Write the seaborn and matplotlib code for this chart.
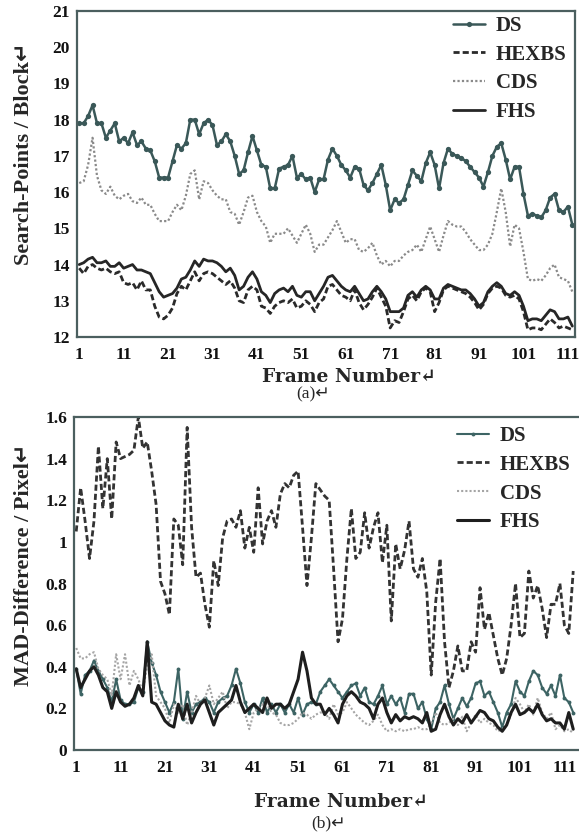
import numpy as np
import matplotlib
matplotlib.use("Agg")
import matplotlib.pyplot as plt
import seaborn as sns

# ---------------- data : panel (a) search points per block ----------------
frames_a = np.arange(1, 113)
ds_a = [17.9, 17.9, 18.1, 18.4, 17.9, 17.9, 17.5, 17.7, 17.9, 17.4,
        17.5, 17.35, 17.65, 17.3, 17.4, 17.2, 17.15, 16.85, 16.4, 16.4,
        16.4, 16.85, 17.3, 17.2, 17.35, 18.0, 18.0, 17.6, 17.9, 18.0,
        17.85, 17.3, 17.4, 17.6, 17.4, 17.0, 16.5, 16.6, 17.1, 17.55,
        17.15, 16.75, 16.7, 16.1, 16.1, 16.65, 16.7, 16.75, 17.0, 16.4,
        16.5, 16.35, 16.4, 16.0, 16.35, 16.35, 16.9, 17.2, 17.0, 16.75,
        16.6, 16.4, 16.7, 16.65, 16.2, 16.05, 16.25, 16.5, 16.75, 16.2,
        15.5, 15.8, 15.7, 15.8, 16.2, 16.6, 16.45, 16.3, 16.8, 17.1,
        16.75, 16.1, 16.8, 17.2, 17.05, 17.0, 16.95, 16.85, 16.7, 16.55,
        16.4, 16.15, 16.55, 17.0, 17.25, 17.35, 16.9, 16.35, 16.7, 16.7,
        15.95, 15.35, 15.4, 15.35, 15.3, 15.5, 15.85, 15.95, 15.5, 15.45,
        15.6, 15.1]
hexbs_a = [13.9, 13.75, 13.95, 14.0, 13.9, 13.85, 13.9, 13.8, 13.75, 13.8,
           13.5, 13.45, 13.5, 13.3, 13.55, 13.3, 13.3, 12.85, 12.55, 12.5,
           12.6, 12.8, 13.2, 13.4, 13.3, 13.55, 13.8, 13.55, 13.75, 13.8,
           13.75, 13.65, 13.55, 13.45, 13.55, 13.35, 13.0, 12.95, 13.3, 13.4,
           13.3, 12.85, 12.8, 12.65, 12.85, 12.95, 13.0, 12.95, 13.05, 12.8,
           12.85, 13.0, 12.9, 12.7, 12.95, 13.05, 13.4, 13.45, 13.3, 13.15,
           13.1, 13.0, 13.3, 12.95, 12.75, 12.9, 13.1, 13.35, 13.1, 12.85,
           12.25, 12.45, 12.4, 12.7, 13.05, 13.15, 13.0, 13.25, 13.35, 13.25,
           12.7, 12.95, 13.3, 13.4, 13.35, 13.3, 13.25, 13.2, 13.1, 12.95,
           12.75, 12.9, 13.2, 13.35, 13.4, 13.35, 13.15, 13.1, 13.15, 13.05,
           12.7, 12.2, 12.25, 12.25, 12.2, 12.35, 12.5, 12.4, 12.25, 12.3,
           12.25, 12.2]
cds_a = [16.25, 16.3, 16.75, 17.5, 16.45, 16.05, 15.95, 16.15, 15.9, 15.8,
         15.9, 15.95, 15.75, 15.7, 15.85, 15.65, 15.65, 15.4, 15.2, 15.2,
         15.2, 15.45, 15.65, 15.5, 15.9, 16.5, 16.6, 15.8, 16.3, 16.25,
         16.05, 15.9, 15.8, 15.8, 15.45, 15.4, 15.1, 15.45, 15.85, 15.9,
         15.45, 15.2, 15.05, 14.6, 14.85, 14.85, 14.85, 15.0, 14.8, 14.6,
         14.85, 15.1, 14.85, 14.35, 14.55, 14.55, 14.75, 14.95, 15.2, 14.9,
         14.6, 14.7, 14.7, 14.4, 14.35, 14.45, 14.6, 14.25, 14.0, 14.1,
         13.95, 14.1, 14.1, 14.25, 14.35, 14.4, 14.55, 14.35, 14.7, 15.05,
         14.7, 14.35, 14.8, 15.2, 15.1, 15.05, 15.05, 14.9, 14.7, 14.55,
         14.4, 14.4, 14.55, 14.85, 15.45, 16.1, 15.45, 14.5, 15.1, 15.0,
         14.35, 13.6, 13.55, 13.6, 13.55, 13.7, 13.9, 14.0, 13.65, 13.6,
         13.55, 13.25]
fhs_a = [14.0, 14.05, 14.15, 14.2, 14.05, 14.05, 14.1, 13.95, 13.95, 14.05,
         13.9, 13.95, 14.0, 13.85, 13.85, 13.8, 13.75, 13.5, 13.25, 13.1,
         13.15, 13.2, 13.35, 13.6, 13.65, 13.85, 14.1, 13.95, 14.15, 14.1,
         14.1, 14.05, 13.95, 13.8, 13.9, 13.7, 13.3, 13.4, 13.65, 13.8,
         13.6, 13.25, 13.15, 12.95, 13.2, 13.3, 13.35, 13.25, 13.4, 13.15,
         13.1, 13.25, 13.25, 13.0, 13.2, 13.4, 13.65, 13.7, 13.55, 13.4,
         13.3, 13.25, 13.4, 13.2, 13.0, 13.05, 13.25, 13.4, 13.25, 13.05,
         12.7, 12.7, 12.7, 12.8, 13.15, 13.25, 13.1, 13.3, 13.4, 13.3,
         13.05, 13.05, 13.35, 13.45, 13.4, 13.35, 13.3, 13.3, 13.2, 13.05,
         12.85, 12.95, 13.25, 13.4, 13.5, 13.4, 13.2, 13.15, 13.25, 13.15,
         12.85, 12.45, 12.5, 12.5, 12.45, 12.6, 12.75, 12.7, 12.5, 12.5,
         12.55, 12.3]

# ---------------- data : panel (b) MAD difference per pixel ----------------
frames_b = np.arange(1, 114)
ds_b = [0.39, 0.27, 0.36, 0.38, 0.43, 0.38, 0.34, 0.30, 0.23, 0.34,
        0.24, 0.22, 0.22, 0.23, 0.30, 0.28, 0.52, 0.42, 0.36, 0.28,
        0.23, 0.18, 0.23, 0.39, 0.15, 0.28, 0.18, 0.22, 0.23, 0.25,
        0.23, 0.18, 0.23, 0.25, 0.26, 0.31, 0.39, 0.32, 0.23, 0.18,
        0.22, 0.18, 0.25, 0.18, 0.22, 0.18, 0.22, 0.18, 0.22, 0.18,
        0.25, 0.17, 0.22, 0.23, 0.22, 0.28, 0.31, 0.34, 0.31, 0.28,
        0.25, 0.28, 0.31, 0.32, 0.26, 0.30, 0.23, 0.22, 0.26, 0.31,
        0.22, 0.26, 0.22, 0.25, 0.18, 0.27, 0.27, 0.20, 0.23, 0.15,
        0.10, 0.20, 0.23, 0.31, 0.22, 0.15, 0.20, 0.25, 0.21, 0.25,
        0.32, 0.33, 0.26, 0.28, 0.23, 0.18, 0.11, 0.18, 0.22, 0.33,
        0.28, 0.26, 0.33, 0.38, 0.36, 0.30, 0.27, 0.31, 0.26, 0.36,
        0.25, 0.23, 0.18]
hexbs_b = [1.05, 1.26, 1.10, 0.92, 1.10, 1.46, 1.16, 1.40, 1.11, 1.48,
           1.40, 1.41, 1.42, 1.44, 1.60, 1.45, 1.48, 1.34, 1.18, 0.81,
           0.75, 0.65, 1.11, 1.08, 0.89, 1.55, 1.07, 0.83, 0.85, 0.70,
           0.59, 0.91, 0.79, 1.02, 1.10, 1.11, 1.07, 1.15, 0.97, 1.07,
           0.95, 1.26, 0.99, 1.10, 1.15, 1.07, 1.23, 1.28, 1.26, 1.32,
           1.34, 1.07, 0.79, 1.02, 1.28, 1.25, 1.22, 1.20, 0.87, 0.52,
           0.63, 0.92, 1.16, 0.92, 0.95, 1.14, 0.97, 1.07, 1.14, 0.90,
           1.08, 0.62, 0.99, 0.87, 0.96, 1.10, 0.87, 0.83, 0.92, 0.76,
           0.36, 0.71, 0.92, 0.52, 0.30, 0.38, 0.50, 0.38, 0.38, 0.52,
           0.47, 0.78, 0.58, 0.66, 0.55, 0.44, 0.36, 0.44, 0.60, 0.80,
           0.54, 0.56, 0.86, 0.73, 0.79, 0.68, 0.54, 0.70, 0.70, 0.80,
           0.60, 0.56, 0.86]
cds_b = [0.49, 0.44, 0.44, 0.46, 0.47, 0.39, 0.36, 0.34, 0.26, 0.46,
         0.34, 0.46, 0.31, 0.38, 0.34, 0.28, 0.41, 0.46, 0.26, 0.23,
         0.20, 0.13, 0.22, 0.18, 0.22, 0.12, 0.18, 0.26, 0.22, 0.25,
         0.31, 0.22, 0.25, 0.28, 0.20, 0.23, 0.23, 0.22, 0.18, 0.10,
         0.18, 0.20, 0.22, 0.22, 0.18, 0.17, 0.13, 0.12, 0.12, 0.13,
         0.15, 0.18, 0.17, 0.15, 0.17, 0.18, 0.18, 0.15, 0.22, 0.17,
         0.18, 0.23, 0.20, 0.17, 0.15, 0.13, 0.12, 0.14, 0.17, 0.12,
         0.09, 0.10, 0.09, 0.10, 0.09, 0.10, 0.10, 0.11, 0.10, 0.10,
         0.13, 0.18, 0.13, 0.12, 0.13, 0.15, 0.12, 0.16, 0.09, 0.13,
         0.17, 0.13, 0.15, 0.13, 0.12, 0.09, 0.10, 0.12, 0.17, 0.25,
         0.22, 0.18, 0.22, 0.17, 0.25, 0.18, 0.15, 0.18, 0.10, 0.12,
         0.09, 0.10, 0.08]
fhs_b = [0.39, 0.30, 0.34, 0.38, 0.40, 0.36, 0.30, 0.28, 0.20, 0.28,
         0.23, 0.21, 0.22, 0.25, 0.31, 0.26, 0.52, 0.23, 0.22, 0.18,
         0.14, 0.12, 0.11, 0.22, 0.15, 0.22, 0.13, 0.18, 0.22, 0.24,
         0.18, 0.12, 0.18, 0.20, 0.22, 0.24, 0.31, 0.23, 0.18, 0.20,
         0.22, 0.20, 0.18, 0.25, 0.20, 0.22, 0.22, 0.20, 0.22, 0.28,
         0.34, 0.47, 0.38, 0.25, 0.22, 0.22, 0.17, 0.20, 0.17, 0.13,
         0.22, 0.26, 0.28, 0.26, 0.23, 0.22, 0.20, 0.15, 0.22, 0.25,
         0.18, 0.13, 0.17, 0.14, 0.16, 0.15, 0.16, 0.15, 0.13, 0.18,
         0.09, 0.10, 0.17, 0.22, 0.16, 0.12, 0.15, 0.13, 0.17, 0.13,
         0.16, 0.19, 0.18, 0.15, 0.14, 0.11, 0.09, 0.12, 0.18, 0.22,
         0.17, 0.18, 0.20, 0.18, 0.22, 0.17, 0.14, 0.15, 0.13, 0.13,
         0.10, 0.18, 0.10]

series_names = ["DS", "HEXBS", "CDS", "FHS"]
xtick_vals = [1, 11, 21, 31, 41, 51, 61, 71, 81, 91, 101, 111]
ytick_a = [12, 13, 14, 15, 16, 17, 18, 19, 20, 21]
ytick_b = [0, 0.2, 0.4, 0.6, 0.8, 1.0, 1.2, 1.4, 1.6]
ytick_b_labels = ["0", "0.2", "0.4", "0.6", "0.8", "1", "1.2", "1.4", "1.6"]

# ---------------- styling ----------------
sns.set_theme(style="white")
plt.rcParams['font.family'] = ['Liberation Serif', 'DejaVu Sans']
plt.rcParams['font.weight'] = 'bold'

W, H = 579, 834
fig = plt.figure(figsize=(W / 100, H / 100), dpi=100)


def axes_px(l, t, r, b):
    return fig.add_axes([l / W, 1 - b / H, (r - l) / W, (b - t) / H])


ax1 = axes_px(77, 11, 575, 337)
ax2 = axes_px(74, 417, 579, 750)

spine_col = "#4b5f5f"
tick_font = dict(family=['Liberation Serif', 'DejaVu Sans'], size=12.5, weight='bold')

# panel (a)
sns.lineplot(x=frames_a, y=ds_a, ax=ax1, color="#3a5858", lw=1.8, marker='o',
             markersize=3.8, markeredgewidth=0, label=series_names[0])
sns.lineplot(x=frames_a, y=hexbs_a, ax=ax1, color="#2a2a2a", lw=2.0,
             linestyle=(0, (2.2, 1.1)), label=series_names[1])
sns.lineplot(x=frames_a, y=cds_a, ax=ax1, color="#8a8a8a", lw=1.6,
             linestyle=(0, (1, 1)), label=series_names[2])
sns.lineplot(x=frames_a, y=fhs_a, ax=ax1, color="#262626", lw=2.0,
             label=series_names[3])

# panel (b)
sns.lineplot(x=frames_b, y=ds_b, ax=ax2, color="#3d6464", lw=1.5, marker='o',
             markersize=2.8, markeredgewidth=0, label=series_names[0])
sns.lineplot(x=frames_b, y=hexbs_b, ax=ax2, color="#333333", lw=2.0,
             linestyle=(0, (2.2, 1.1)), label=series_names[1])
sns.lineplot(x=frames_b, y=cds_b, ax=ax2, color="#a5a5a5", lw=1.5,
             linestyle=(0, (1, 1)), label=series_names[2])
sns.lineplot(x=frames_b, y=fhs_b, ax=ax2, color="#1e1e1e", lw=2.2,
             label=series_names[3])

ax1.set_xlim(0.5, 112.6)
ax1.set_ylim(12, 21)
ax2.set_xlim(0.5, 114.3)
ax2.set_ylim(0, 1.6)

for ax, yt, ytl in ((ax1, ytick_a, [str(v) for v in ytick_a]),
                    (ax2, ytick_b, ytick_b_labels)):
    ax.set_xticks(xtick_vals)
    ax.set_xticklabels([str(v) for v in xtick_vals], fontdict=tick_font)
    ax.set_yticks(yt)
    ax.set_yticklabels(ytl, fontdict=tick_font)
    ax.tick_params(axis='x', length=0, pad=7, colors='#111111')
    ax.tick_params(axis='y', length=0, pad=5, colors='#111111')
    for s in ax.spines.values():
        s.set_color(spine_col)
        s.set_linewidth(1.6)
    ax.grid(False)

ax2.spines['right'].set_visible(False)

# axis labels
lab_font = ['Liberation Serif', 'DejaVu Sans']
ax1.set_ylabel("Search-Points / Block\u21b5", family=lab_font, size=16,
               weight='bold', ha='center', va='center')
ax1.yaxis.set_label_coords((24 - 77) / 498, (337 - 154) / 326)
ax2.set_ylabel("MAD-Difference / Pixel\u21b5", family=lab_font, size=16,
               weight='bold', ha='center', va='center')
ax2.yaxis.set_label_coords((24 - 74) / 505, (750 - 565) / 333)

xl_font = ['DejaVu Serif', 'DejaVu Sans']
ax1.set_xlabel("Frame Number\u21b5", family=xl_font, size=13.5, weight='heavy',
               ha='center', va='center')
ax1.xaxis.set_label_coords((349 - 77) / 498, -(377 - 337) / 326)
ax2.set_xlabel("Frame Number\u21b5", family=xl_font, size=13.5, weight='heavy',
               ha='center', va='center')
ax2.xaxis.set_label_coords((341 - 74) / 505, -(802 - 750) / 333)

fig.text(313 / W, 1 - 394 / H, "(a)\u21b5", family=lab_font, size=12.5,
         weight='normal', ha='center', va='center')
fig.text(329 / W, 1 - 823 / H, "(b)\u21b5", family=lab_font, size=12.5,
         weight='normal', ha='center', va='center')

# legends
leg_font = dict(family=['Liberation Serif', 'DejaVu Sans'], size=15, weight='bold')
for ax, (lx, ly) in ((ax1, (453, 16)), (ax2, (457, 426))):
    ax.legend(loc='upper left', bbox_to_anchor=(lx / W, 1 - ly / H),
              bbox_transform=fig.transFigure, frameon=False, prop=leg_font,
              handlelength=1.55, handletextpad=0.5, labelspacing=0.42,
              borderaxespad=0, borderpad=0)

fig.savefig("out.png", dpi=100)
